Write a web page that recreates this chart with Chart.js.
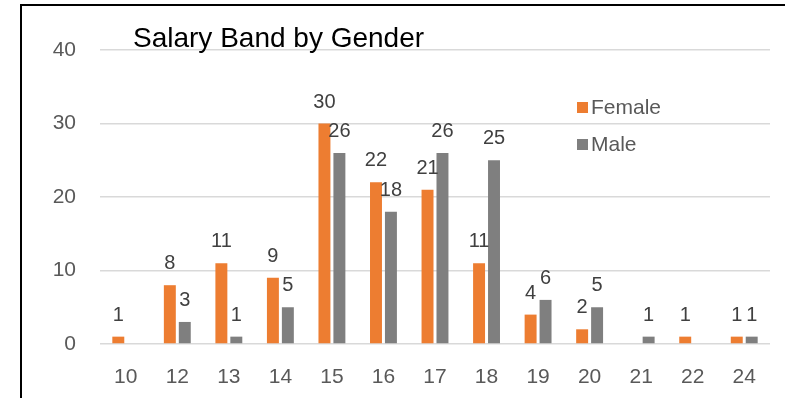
<!DOCTYPE html>
<html>
<head>
<meta charset="utf-8">
<script src="https://cdn.jsdelivr.net/npm/chart.js@4"></script>
<style>
    html, body { margin: 0; padding: 0; background: #fff; }
    #wrap { position: relative; width: 785px; height: 398px; overflow: hidden; }
    #frame { position: absolute; left: 20px; top: 4px; width: 800px; height: 420px; border: 2px solid #000; box-sizing: border-box; }
    canvas { position: absolute; left: 0; top: 0; }
</style>
</head>
<body>
<div id="wrap">
    <div id="frame"></div>
    <canvas id="salaryChart" width="785" height="398"></canvas>
</div>
<script>
// Gehaltsband-Kategorien und Anzahl je Geschlecht
const bands = ["10", "12", "13", "14", "15", "16", "17", "18", "19", "20", "21", "22", "24"];
const femaleCounts = [1, 8, 11, 9, 30, 22, 21, 11, 4, 2, 0, 1, 1];
const maleCounts = [0, 3, 1, 5, 26, 18, 26, 25, 6, 5, 1, 0, 1];
const yTicks = [0, 10, 20, 30, 40];

const FONT = "'Liberation Sans', Arial, sans-serif";
const ORANGE = '#ed7d31';
const GREY = '#7f7f7f';

// Werte über den Balken (Nullwerte werden ausgelassen)
const barLabels = {
    id: 'barLabels',
    afterDatasetsDraw(chart) {
        const ctx = chart.ctx;
        ctx.save();
        ctx.font = '20px ' + FONT;
        ctx.fillStyle = '#404040';
        ctx.textAlign = 'center';
        ctx.textBaseline = 'alphabetic';
        chart.data.datasets.forEach((ds, i) => {
            const meta = chart.getDatasetMeta(i);
            meta.data.forEach((bar, j) => {
                const v = ds.data[j];
                if (!v) return;
                ctx.fillText(String(v), bar.x, bar.y - 16);
            });
        });
        ctx.restore();
    }
};

// Titel und Legende innerhalb der Zeichenfläche
const titleAndLegend = {
    id: 'titleAndLegend',
    afterDraw(chart) {
        const ctx = chart.ctx;
        ctx.save();
        ctx.font = '28px ' + FONT;
        ctx.fillStyle = '#000';
        ctx.textAlign = 'left';
        ctx.textBaseline = 'middle';
        ctx.fillText('Salary Band by Gender', 133, 39);

        ctx.font = '21px ' + FONT;
        chart.data.datasets.forEach((ds, i) => {
            const y = 107 + i * 37;
            ctx.fillStyle = ds.backgroundColor;
            ctx.fillRect(577, y - 5, 11, 11);
            ctx.fillStyle = '#595959';
            ctx.fillText(ds.label, 591, y + 1);
        });
        ctx.restore();
    }
};

new Chart(document.getElementById('salaryChart').getContext('2d'), {
    type: 'bar',
    data: {
        labels: bands,
        datasets: [
            { label: 'Female', data: femaleCounts, backgroundColor: ORANGE },
            { label: 'Male', data: maleCounts, backgroundColor: GREY }
        ]
    },
    options: {
        responsive: false,
        animation: false,
        devicePixelRatio: 1,
        categoryPercentage: 0.58,
        barPercentage: 0.8,
        layout: { padding: { left: 0, right: 15, top: 50, bottom: 0 } },
        plugins: {
            legend: { display: false },
            title: { display: false },
            tooltip: { enabled: false }
        },
        scales: {
            x: {
                grid: { display: false },
                border: { display: false },
                ticks: { color: '#595959', font: { family: FONT, size: 21 }, padding: 13 },
                afterFit(scale) { scale.height = 54; }
            },
            y: {
                min: 0,
                max: 40,
                afterBuildTicks(scale) { scale.ticks = yTicks.map(v => ({ value: v })); },
                grid: { color: '#d9d9d9', lineWidth: 1.5, drawTicks: false },
                border: { display: false },
                ticks: { color: '#595959', font: { family: FONT, size: 21 }, padding: 24 },
                afterFit(scale) { scale.width = 100; }
            }
        }
    },
    plugins: [barLabels, titleAndLegend]
});
</script>
</body>
</html>
